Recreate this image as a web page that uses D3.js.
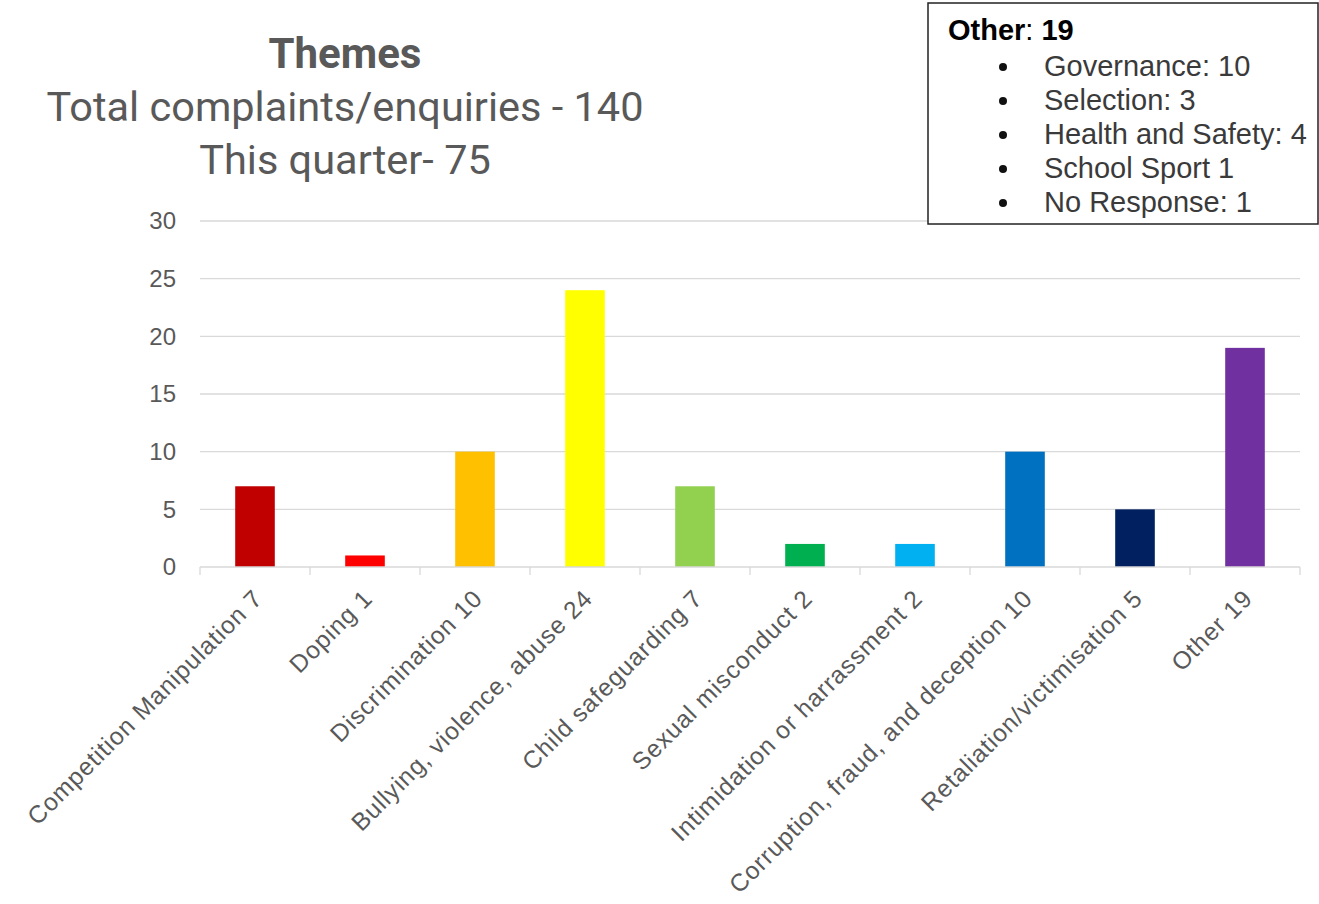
<!DOCTYPE html>
<html>
<head>
<meta charset="utf-8">
<title>Themes</title>
<script src="https://d3js.org/d3.v7.min.js"></script>
<style>
  body { margin: 0; background: #fff; }
  svg { display: block; }
</style>
</head>
<body>
<svg width="1319" height="904"></svg>
<script>
// data
var categories = ["Competition Manipulation 7", "Doping 1", "Discrimination 10",
  "Bullying, violence, abuse 24", "Child safeguarding 7", "Sexual misconduct 2",
  "Intimidation or harrassment 2", "Corruption, fraud, and deception 10",
  "Retaliation/victimisation 5", "Other 19"];
var values = [7, 1, 10, 24, 7, 2, 2, 10, 5, 19];
var colors = ["#C00000", "#FF0000", "#FFC000", "#FFFF00", "#92D050", "#00B050",
  "#00B0F0", "#0070C0", "#002060", "#7030A0"];
var yTicks = [0, 5, 10, 15, 20, 25, 30];
var titleLines = ["Total complaints/enquiries - 140", "This quarter- 75"];
var otherTotal = "19";
var otherItems = ["Governance: 10", "Selection: 3", "Health and Safety: 4", "School Sport 1", "No Response: 1"];

var svg = d3.select("svg");
var grey = "#595959";
var sans = "Liberation Sans, Arial, sans-serif";

var x = d3.scaleBand().domain(categories).range([200, 1300]).paddingInner(0.64).paddingOuter(0.32);
var y = d3.scaleLinear().domain([0, 30]).range([567, 221]);

// gridlines
svg.append("g").selectAll("line").data(yTicks.slice(1)).join("line")
  .attr("x1", 200).attr("x2", 1300)
  .attr("y1", d => y(d)).attr("y2", d => y(d))
  .attr("stroke", "#d9d9d9").attr("stroke-width", 1.3);

// y labels
svg.append("g").selectAll("text").data(yTicks).join("text")
  .attr("x", 176).attr("y", d => y(d)).attr("dy", "0.35em")
  .attr("text-anchor", "end")
  .attr("font-family", sans)
  .attr("font-size", 24).attr("fill", grey)
  .text(d => d);

// bars
svg.append("g").selectAll("rect").data(values).join("rect")
  .attr("x", (d, i) => x(categories[i]))
  .attr("width", x.bandwidth())
  .attr("y", d => y(d))
  .attr("height", d => y(0) - y(d))
  .attr("fill", (d, i) => colors[i]);

// x axis line + ticks between categories
var step = x.step();
var axis = svg.append("g");
axis.append("line").attr("x1", 200).attr("x2", 1300).attr("y1", y(0)).attr("y2", y(0))
  .attr("stroke", "#d9d9d9").attr("stroke-width", 1.3);
axis.selectAll("line.tk").data(d3.range(categories.length + 1)).join("line")
  .attr("class", "tk")
  .attr("x1", i => 200 + i * step).attr("x2", i => 200 + i * step)
  .attr("y1", y(0)).attr("y2", y(0) + 8)
  .attr("stroke", "#d9d9d9").attr("stroke-width", 1.3);

// x labels rotated
svg.append("g").selectAll("text").data(categories).join("text")
  .attr("transform", d => "translate(" + (x(d) + x.bandwidth() / 2 + 9) + "," + (y(0) + 33) + ") rotate(-45)")
  .attr("text-anchor", "end")
  .attr("font-family", sans)
  .attr("font-size", 24.5).attr("letter-spacing", 0.9).attr("fill", grey)
  .text(d => d);

// title
svg.append("text").attr("x", 345).attr("y", 68).attr("text-anchor", "middle")
  .attr("font-family", "Roboto, sans-serif").attr("font-weight", "bold")
  .attr("font-size", 42).attr("fill", grey).text("Themes");
svg.append("g").selectAll("text").data(titleLines).join("text")
  .attr("x", 345).attr("y", (d, i) => 121 + i * 53).attr("text-anchor", "middle")
  .attr("font-family", "Roboto, sans-serif")
  .attr("font-size", 41.5).attr("fill", grey).text(d => d);

// "Other" breakdown box
var box = svg.append("g");
box.append("rect").attr("x", 928).attr("y", 3).attr("width", 390).attr("height", 221)
  .attr("fill", "#fff").attr("stroke", "#222").attr("stroke-width", 1.5);
var head = box.append("text").attr("x", 948).attr("y", 40)
  .attr("font-family", sans).attr("font-size", 29).attr("fill", "#000");
head.append("tspan").attr("font-weight", "bold").text("Other");
head.append("tspan").text(": ");
head.append("tspan").attr("font-weight", "bold").text(otherTotal);
box.selectAll("circle").data(otherItems).join("circle")
  .attr("cx", 1003).attr("cy", (d, i) => 67 + i * 34).attr("r", 4).attr("fill", "#111");
box.selectAll("text.it").data(otherItems).join("text").attr("class", "it")
  .attr("x", 1044).attr("y", (d, i) => 66 + i * 34).attr("dy", "0.35em")
  .attr("font-family", sans).attr("font-size", 29).attr("fill", "#3a3a3a")
  .text(d => d);
</script>
</body>
</html>
